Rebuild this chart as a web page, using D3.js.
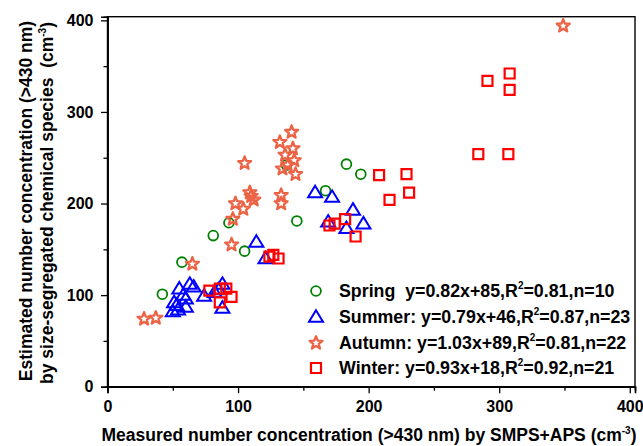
<!DOCTYPE html>
<html><head><meta charset="utf-8">
<script src="https://cdn.jsdelivr.net/npm/d3@7"></script>
<style>
html,body{margin:0;padding:0;background:#fff;}
text{font-family:"Liberation Sans",Arial,sans-serif;font-weight:bold;fill:#000;}
</style></head>
<body>
<svg id="chart" width="643" height="446"></svg>
<script>
// ---- data ----
const springX = [42, 57, 81, 93, 105, 137, 145, 167, 183, 194];
const springY = [101, 136, 165, 179, 148, 242, 181, 214, 243, 232];

const summerX = [50, 54, 60, 88, 51, 60, 74, 82, 55, 66, 63, 88, 114, 121, 159, 172, 169, 183, 188, 196, 58, 85, 53];
const summerY = [82, 84, 87, 86, 92, 96, 99, 103, 107, 109, 112, 112, 158, 140, 212, 207, 180, 173, 193, 178, 100, 106, 89];

const autumnX = [28, 37, 65, 95, 96, 104, 98, 112, 110, 109, 105, 133, 133, 134, 144, 138, 143, 136, 142, 132, 141, 349];
const autumnY = [74, 75, 134, 155, 183, 194, 200, 204, 208, 212, 244, 200, 209, 238, 232, 242, 247, 253, 260, 267, 278, 394];

const winterX = [78, 86, 91, 95, 86, 124, 127, 131, 170, 174, 182, 190, 208, 216, 229, 231, 284, 307, 291, 308, 308];
const winterY = [105, 107, 107, 98, 92, 142, 144, 140, 176, 178, 183, 164, 231, 204, 232, 212, 254, 254, 334, 342, 324];

const majorTicks = [0, 100, 200, 300, 400];
const minorTicks = [50, 150, 250, 350];

const seriesNames = ["Spring", "Summer", "Autumn", "Winter"];
const legendEq = ["y=0.82x+85,R", "y=0.79x+46,R", "y=1.03x+89,R", "y=0.93x+18,R"];
const legendR2 = ["=0.81,n=10", "=0.87,n=23", "=0.81,n=22", "=0.92,n=21"];
const legendSep = ["  ", ": ", ": ", ": "];

// ---- layout ----
const svg = d3.select("#chart");
const L = 107.5, R = 635, T = 16.7, B = 386.7;
const x = d3.scaleLinear().domain([0, 404]).range([L, R]);
const y = d3.scaleLinear().domain([0, 404]).range([B, T]);

const colors = {Spring: "#008000", Summer: "#0000ff", Autumn: "#ec6244", Winter: "#ff0000"};

// frame
svg.append("rect").attr("x", L).attr("y", T).attr("width", R - L).attr("height", B - T)
  .attr("fill", "none").attr("stroke", "#000").attr("stroke-width", 1.4);

// axes
const xAxis = d3.axisBottom(x).tickValues(majorTicks).tickSize(6.5).tickPadding(7).tickFormat(d3.format("d"));
const xMinor = d3.axisBottom(x).tickValues(minorTicks).tickSize(4).tickFormat("");
const yAxis = d3.axisLeft(y).tickValues(majorTicks).tickSize(6.5).tickPadding(7.5).tickFormat(d3.format("d"));
const yMinor = d3.axisLeft(y).tickValues(minorTicks).tickSize(4).tickFormat("");

function styleAxis(g) {
  g.select(".domain").attr("stroke", "#000").attr("stroke-width", 1.6);
  g.selectAll(".tick line").attr("stroke", "#000").attr("stroke-width", 1.3);
  g.selectAll(".tick text").style("font-size", "16px").style("font-family", "'Liberation Sans',Arial,sans-serif").style("font-weight", "bold").attr("fill", "#000");
}
svg.append("g").attr("transform", `translate(0,${B})`).call(xAxis).call(styleAxis);
svg.append("g").attr("transform", `translate(0,${B})`).call(xMinor).call(styleAxis);
svg.append("g").attr("transform", `translate(${L},0)`).call(yAxis).call(styleAxis);
svg.append("g").attr("transform", `translate(${L},0)`).call(yMinor).call(styleAxis);

// axis titles
const xt = svg.append("text").attr("x", 369).attr("y", 441).attr("text-anchor", "middle").style("font-size", "17.5px");
xt.append("tspan").text("Measured number concentration (>430 nm) by SMPS+APS (cm");
xt.append("tspan").attr("dy", -7).style("font-size", "10px").text("-3");
xt.append("tspan").attr("dy", 7).text(")");

svg.append("text").attr("transform", "translate(32,201) rotate(-90)").attr("text-anchor", "middle").style("font-size", "17.5px")
  .text("Estimated number concentration (>430 nm)");
const yt2 = svg.append("text").attr("transform", "translate(53,203) rotate(-90)").attr("text-anchor", "middle").style("font-size", "17.5px").attr("xml:space", "preserve");
yt2.append("tspan").text("by size-segregated chemical species  (cm");
yt2.append("tspan").attr("dy", -7).style("font-size", "10px").text("-3");
yt2.append("tspan").attr("dy", 7).text(")");

// markers
const starPath = (() => {
  const ro = 6.8, ri = 2.9, pts = [];
  for (let i = 0; i < 10; i++) {
    const a = -Math.PI / 2 + i * Math.PI / 5;
    const r = i % 2 === 0 ? ro : ri;
    pts.push([r * Math.cos(a), r * Math.sin(a)]);
  }
  return "M" + pts.map(p => p.join(",")).join("L") + "Z";
})();
const triPath = "M0,-6.8L7,4.7L-7,4.7Z";
const sqPath = "M-5,-5H5V5H-5Z";

function drawMarker(g, name, cx, cy) {
  const c = colors[name];
  if (name === "Spring") {
    g.append("circle").attr("cx", cx).attr("cy", cy).attr("r", 4.9).attr("fill", "none").attr("stroke", c).attr("stroke-width", 1.8);
  } else if (name === "Summer") {
    g.append("path").attr("d", triPath).attr("transform", `translate(${cx},${cy})`).attr("fill", "none").attr("stroke", c).attr("stroke-width", 2);
  } else if (name === "Autumn") {
    g.append("path").attr("d", starPath).attr("transform", `translate(${cx},${cy})`).attr("fill", "none").attr("stroke", c).attr("stroke-width", 2.3).attr("stroke-linejoin", "round");
  } else {
    g.append("path").attr("d", sqPath).attr("transform", `translate(${cx},${cy})`).attr("fill", "none").attr("stroke", c).attr("stroke-width", 2.2);
  }
}

const seriesData = [
  ["Spring", springX, springY],
  ["Summer", summerX, summerY],
  ["Autumn", autumnX, autumnY],
  ["Winter", winterX, winterY]
];
const plot = svg.append("g");
seriesData.forEach(([name, xs, ys]) => {
  const g = plot.append("g").attr("class", name);
  xs.forEach((v, i) => drawMarker(g, name, x(v), y(ys[i])));
});

// legend
const legY = [297, 323, 349, 374];
seriesNames.forEach((name, i) => {
  const g = svg.append("g");
  drawMarker(g, name, 316, legY[i] - 6);
  const t = g.append("text").attr("x", 339).attr("y", legY[i]).style("font-size", "17.8px").attr("xml:space", "preserve");
  t.append("tspan").text(name + legendSep[i] + legendEq[i]);
  t.append("tspan").attr("dy", -8).style("font-size", "10px").text("2");
  t.append("tspan").attr("dy", 8).text(legendR2[i]);
});
</script>
</body></html>
